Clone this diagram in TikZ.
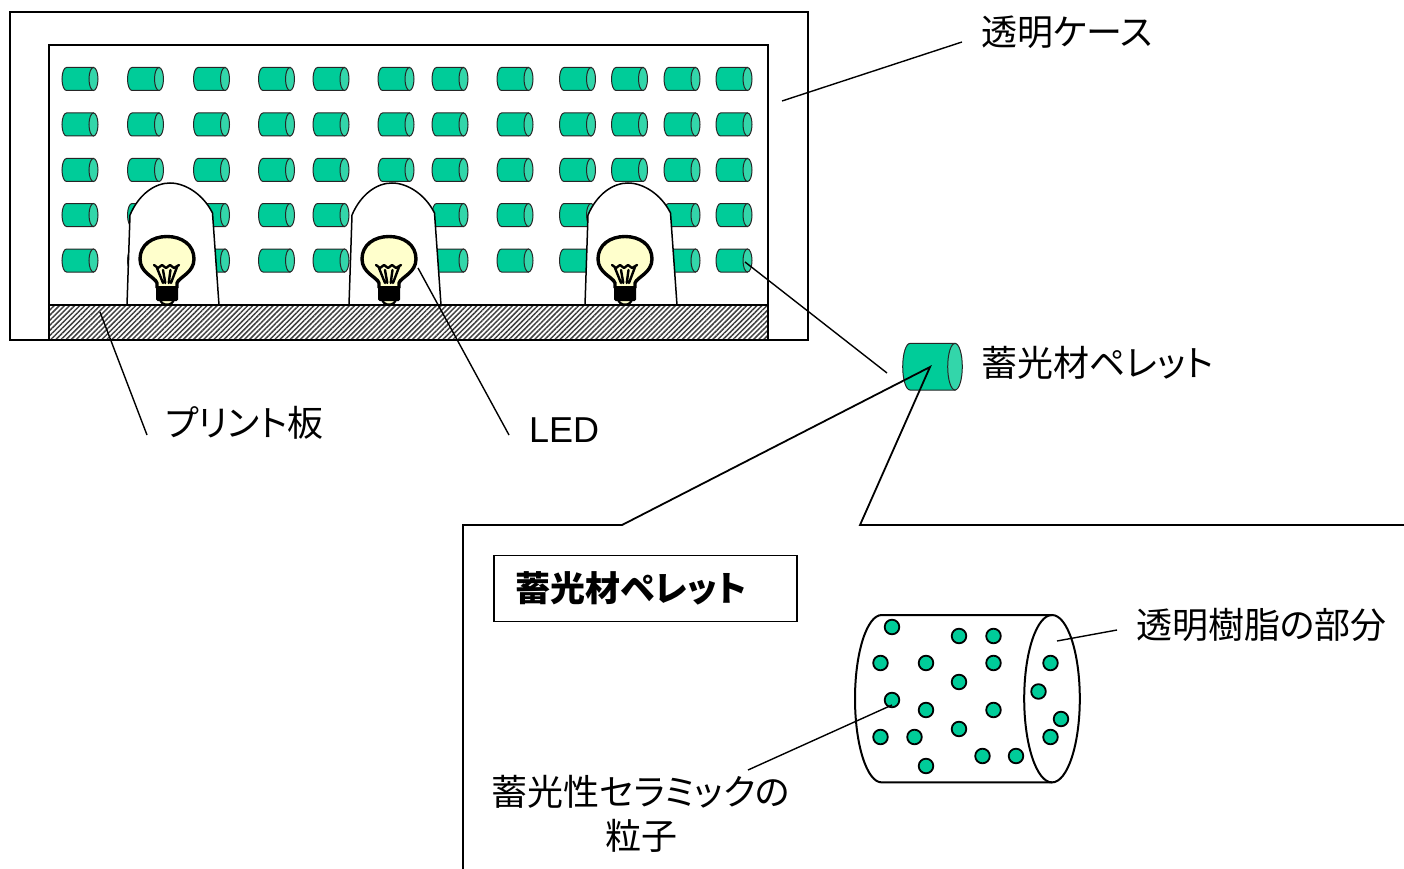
\documentclass[tikz,border=0pt]{standalone}
\usepackage{fontspec}
\setmainfont{Noto Sans CJK JP}[RawFeature={+palt}]
\newfontfamily\latinfont{Liberation Sans}
\usetikzlibrary{patterns.meta}

\definecolor{pelbody}{RGB}{0,204,153}
\definecolor{pelcap}{RGB}{51,214,170}
\definecolor{bulbglass}{RGB}{255,255,204}

% a cylindrical pellet lying on its side: centre x, centre y, half length, end radius x, end radius y
\newcommand{\pelletdraw}[5]{%
  \draw[pelline, fill=pelbody] ({#1-#3},{#2+#5}) -- ({#1+#3},{#2+#5}) -- ({#1+#3},{#2-#5}) -- ({#1-#3},{#2-#5})
     arc[start angle=270, end angle=90, x radius=#4, y radius=#5] -- cycle;
  \draw[pelline, fill=pelcap] ({#1+#3},#2) ellipse[x radius=#4, y radius=#5];
}

% an LED: dome-shaped clear casing with a lamp inside, x = lamp centre
\newcommand{\ledlamp}[1]{%
  \begin{scope}[shift={(#1,0)}]
    \draw[fill=white, line width=1.5pt] (-40,305) -- (-37,215)
      .. controls (-28,194) and (-12,183) .. (3,183)
      .. controls (18,183) and (36,194) .. (45.5,213) -- (52,305);
    % glass
    \draw[fill=bulbglass, line width=3.4pt, line join=round] (-10,288) -- (-10,283)
      .. controls (-12,277) and (-27,273) .. (-27,259)
      .. controls (-27,245) and (-15,236.5) .. (0,236.5)
      .. controls (15,236.5) and (27,245) .. (27,259)
      .. controls (27,273) and (12,277) .. (10,283) -- (10,288);
    % filament
    \draw[line width=2.4pt, line join=round, line cap=round]
      (-13,265) -- (-9,268) -- (-5,265) -- (-1,268) -- (3,265) -- (7,268) -- (12,265);
    \draw[line width=2.4pt, line cap=round] (-10,268) -- (-4,283) (10,267) -- (4,283)
      (-4,270) -- (-1.7,283) (3.5,270) -- (1.7,283);
    % tip and screw base
    \draw[fill=bulbglass, line width=2.2pt] (-7,299) .. controls (-6,306.5) and (6,306.5) .. (7,299);
    \fill[black, rounded corners=1.5pt] (-11,286) rectangle (11,301);
  \end{scope}
}

\begin{document}
\begin{tikzpicture}[x=1pt, y=-1pt,
  pelline/.style={draw=black!85, line width=1pt},
  frame/.style={draw=black, line width=2pt},
  leader/.style={draw=black, line width=1.4pt},
  lbl/.style={inner sep=0pt, anchor=west, font=\fontsize{36}{44}\selectfont},
  grain/.style={draw=black, line width=1.8pt, fill=pelbody}]
\useasboundingbox (0,0) rectangle (1404,869);

% clear case and inner panel
\draw[frame] (10,12) rectangle (808,340);
\draw[frame] (49,45) rectangle (768,340);

% grid of phosphorescent pellets
\foreach \cx in {80,145.5,211.5,276.5,331,396,450,515,577.5,629.5,682,734}{
  \foreach \cy in {79,124.5,170,215,260.5}{
    \pelletdraw{\cx}{\cy}{13.5}{4.5}{11.5}
  }
}

% LEDs
\ledlamp{167}
\ledlamp{389}
\ledlamp{625}

% printed circuit board
\fill[white] (49,305) rectangle (768,340);
\path[pattern={Lines[angle=45, distance=3.6pt, line width=1.5pt]}, pattern color=black!75]
  (49,305) rectangle (768,340);
\draw[frame] (49,305) rectangle (768,340);

% single pellet and the enlarged view frame
\pelletdraw{932.5}{366.7}{22.5}{7.3}{23.3}
\coordinate (zoomApex) at (930,367);
\coordinate (zoomL) at (622,525);
\coordinate (zoomLL) at (463,525);
\coordinate (zoomLB) at (463,869);
\coordinate (zoomR) at (860,525);
\coordinate (zoomRR) at (1404,525);
\draw[leader, line width=1.8pt] (zoomLB) -- (zoomLL) -- (zoomL) -- (zoomApex) -- (zoomR) -- (zoomRR);

% labels of the upper part
\node[lbl] (caseLbl) at (981,32) {透明ケース};
\node[lbl] (pelLbl) at (981,363) {蓄光材ペレット};
\node[lbl] (pcbLbl) at (165,423) {プリント板};
\node[lbl, font=\fontsize{36}{44}\latinfont] (ledLbl) at (529,430) {LED};

\coordinate (caseA) at (782,101);  \coordinate (caseB) at (962,42);
\coordinate (pelA) at (745,262);   \coordinate (pelB) at (887,373);
\coordinate (pcbA) at (100,312);   \coordinate (pcbB) at (147,435);
\coordinate (ledA) at (418,268);   \coordinate (ledB) at (509,435);
\draw[leader] (caseA) -- (caseB);
\draw[leader] (pelA) -- (pelB);
\draw[leader] (pcbA) -- (pcbB);
\draw[leader] (ledA) -- (ledB);

% enlarged pellet
\node[draw=black, line width=1.5pt, anchor=west, inner xsep=22pt, inner ysep=0pt,
      text width=259pt, minimum height=66pt, align=left,
      font=\fontsize{35}{44}\selectfont\bfseries] (titleBox) at (493,588.5) {蓄光材ペレット};

% resin body: open outline so no seam shows behind the end face
\draw[line width=2pt, fill=white] (1052,615) -- (881.7,615)
   arc[start angle=270, end angle=90, x radius=26.7, y radius=83.7] -- (1052,782.3);
\draw[line width=2pt] (1052,698.7) ellipse[x radius=27.8, y radius=83.7];

\foreach \gx/\gy in {892/627, 959/636, 993.5/636, 880.5/663, 926/663, 993.5/663, 1050.5/663,
    959/682, 1038.5/691.5, 892/700, 926/710, 993.5/710, 1061/719, 959/729, 880.5/737,
    914.5/737, 1050.5/737, 982.5/756, 1016/756, 926/766}{
  \draw[grain] (\gx,\gy) circle[radius=7.3];
}

\node[lbl] (resinLbl) at (1136,625) {透明樹脂の部分};
\node[lbl, anchor=center, align=center] (grainLbl) at (641,814) {蓄光性セラミックの\\粒子};

\coordinate (resinA) at (1057,641);  \coordinate (resinB) at (1117,630);
\coordinate (grainA) at (892,705);   \coordinate (grainB) at (748,770);
\draw[leader] (resinA) -- (resinB);
\draw[leader] (grainA) -- (grainB);
\end{tikzpicture}
\end{document}
